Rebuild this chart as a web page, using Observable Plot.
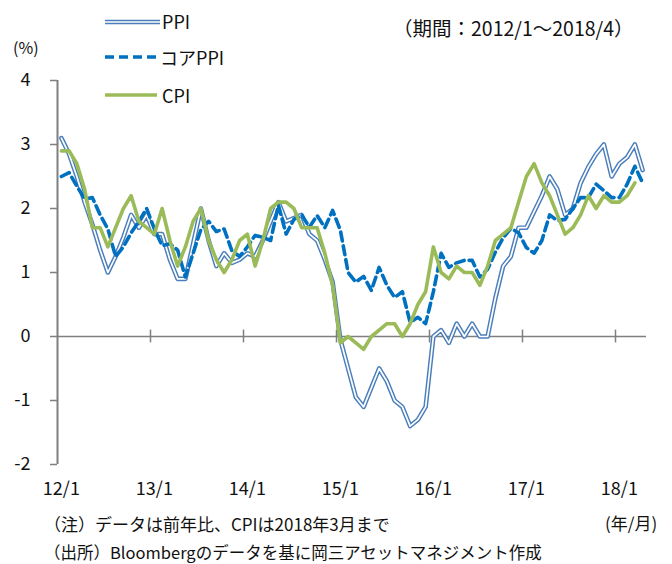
<!DOCTYPE html>
<html><head><meta charset="utf-8">
<script src="https://cdn.jsdelivr.net/npm/d3@7"></script>
<script src="https://cdn.jsdelivr.net/npm/@observablehq/plot@0.6"></script>
<style>
body{margin:0;background:#fff;font-family:"Noto Sans CJK JP","Noto Sans",sans-serif;}
#wrap{position:relative;width:672px;height:564px;overflow:hidden;}
#wrap svg.plot{position:absolute;left:0;top:0;}
.t{position:absolute;white-space:nowrap;color:#111;font-size:16px;line-height:1;transform:translateY(-50%);}
.sw{position:absolute;}
</style></head><body>
<div id="wrap"></div>
<script>
// months from 2012/1 to 2018/4
const startYear = 2012, startMonth = 1, monthCount = 76;
const yearLabels = ["12/1","13/1","14/1","15/1","16/1","17/1","18/1"];
const yTicks = [-2,-1,0,1,2,3,4];

const ppi = [3.1,2.85,2.5,2.1,1.75,1.35,1.0,1.25,1.55,1.9,1.7,1.9,
             1.6,1.6,1.2,0.9,0.9,1.45,2.0,1.5,1.1,1.3,1.15,1.2,
             1.3,1.25,1.5,1.8,2.1,1.8,1.85,1.9,1.6,1.5,1.2,0.85,
             -0.05,-0.5,-0.95,-1.1,-0.8,-0.5,-0.7,-1.0,-1.1,-1.4,-1.3,-1.1,
             0.0,0.1,-0.1,0.2,0.0,0.2,0.0,0.0,0.6,1.1,1.25,1.7,
             1.7,1.95,2.2,2.5,2.3,1.9,2.0,2.4,2.65,2.85,3.0,2.5,
             2.7,2.8,3.0,2.6];
const corePpi = [2.5,2.56,2.35,2.15,2.17,1.9,1.68,1.25,1.4,1.62,1.8,2.0,
                 1.68,1.42,1.45,1.35,0.93,1.3,1.67,1.8,1.64,1.68,1.34,1.25,
                 1.4,1.58,1.55,1.5,2.05,1.6,1.83,1.9,1.71,1.89,1.7,1.97,
                 1.66,1.0,0.85,0.94,0.72,1.08,0.8,0.61,0.7,0.22,0.3,0.2,
                 0.7,1.3,1.08,1.15,1.19,1.19,0.93,1.05,1.32,1.54,1.69,1.62,
                 1.39,1.3,1.5,1.9,1.81,1.83,2.0,2.17,2.17,2.38,2.28,2.17,
                 2.17,2.38,2.66,2.4];
const cpi = [2.9,2.9,2.7,2.3,1.7,1.7,1.4,1.7,2.0,2.2,1.8,1.7,
             1.6,2.0,1.5,1.1,1.4,1.8,2.0,1.5,1.2,1.0,1.2,1.5,
             1.6,1.1,1.5,2.0,2.1,2.1,2.0,1.7,1.7,1.7,1.3,0.8,
             -0.1,0.0,-0.1,-0.2,0.0,0.1,0.2,0.2,0.0,0.2,0.5,0.7,
             1.4,1.0,0.9,1.1,1.0,1.0,0.8,1.1,1.5,1.6,1.7,2.1,
             2.5,2.7,2.4,2.2,1.9,1.6,1.7,1.9,2.2,2.0,2.2,2.1,
             2.1,2.2,2.4];

const toRows = arr => arr.map((v, i) => ({i, v}));
const ppiRows = toRows(ppi), coreRows = toRows(corePpi), cpiRows = toRows(cpi);
const labelIdx = yearLabels.map((_, k) => k * 12);
const boundaries = labelIdx.slice(1).map(i => i - 0.5);
const axisGray = "#7f7f7f";

const chart = Plot.plot({
  width: 672, height: 564,
  marginTop: 80, marginBottom: 100, marginLeft: 57, marginRight: 26,
  x: {domain: [-0.5, monthCount - 0.5], axis: null},
  y: {domain: [d3.min(yTicks), d3.max(yTicks)], axis: null},
  style: {fontFamily: '"Noto Sans CJK JP","Noto Sans",sans-serif', fontSize: "18px", color: "#111", background: "white"},
  marks: [
    Plot.ruleY([0], {stroke: axisGray, strokeWidth: 1.5}),
    Plot.ruleX(boundaries, {x: d => d, y1: -0.1, y2: 0.1, stroke: axisGray, strokeWidth: 1.5}),
    Plot.ruleX([-0.5], {y1: d3.min(yTicks), y2: d3.max(yTicks), stroke: axisGray, strokeWidth: 2}),
    Plot.axisY(yTicks, {label: null, tickSize: 7, tickPadding: 20, stroke: axisGray, strokeWidth: 1.5, tickFormat: d => String(d), fill: "#111"}),
    Plot.axisX(labelIdx, {label: null, tickSize: 0, tickPadding: 18, tickFormat: d => yearLabels[labelIdx.indexOf(d)], fill: "#111"}),
    Plot.line(ppiRows, {x: "i", y: "v", stroke: "#4a7ebb", strokeWidth: 4.6, strokeLinejoin: "round"}),
    Plot.line(ppiRows, {x: "i", y: "v", stroke: "white", strokeWidth: 1.7, strokeLinejoin: "round"}),
    Plot.line(coreRows, {x: "i", y: "v", stroke: "#0070c0", strokeWidth: 3.6, strokeDasharray: "9,5", strokeLinejoin: "round"}),
    Plot.line(cpiRows, {x: "i", y: "v", stroke: "#9bbb59", strokeWidth: 3.6, strokeLinejoin: "round"})
  ]
});
const wrap = document.getElementById("wrap");
wrap.appendChild(chart);

function addText(txt, left, cy, size) {
  const d = document.createElement("div");
  d.className = "t"; d.textContent = txt;
  d.style.left = left + "px"; d.style.top = cy + "px";
  if (size) d.style.fontSize = size + "px";
  wrap.appendChild(d);
}
function addSwatch(cy, inner) {
  const ns = "http://www.w3.org/2000/svg";
  const s = document.createElementNS(ns, "svg");
  s.setAttribute("class", "sw");
  s.setAttribute("width", 60); s.setAttribute("height", 10);
  s.style.left = "103px"; s.style.top = (cy - 5) + "px";
  s.innerHTML = inner;
  wrap.appendChild(s);
}
addSwatch(22, '<line x1="2" x2="57" y1="5" y2="5" stroke="#4a7ebb" stroke-width="4.6"/><line x1="2" x2="57" y1="5" y2="5" stroke="white" stroke-width="1.7"/>');
addSwatch(57, '<line x1="2" x2="54" y1="5" y2="5" stroke="#0070c0" stroke-width="3.6" stroke-dasharray="9,5"/>');
addSwatch(95, '<line x1="2" x2="54" y1="5" y2="5" stroke="#9bbb59" stroke-width="3.6"/>');
addText("PPI", 162, 21, 18);
addText("コアPPI", 160, 57, 18);
addText("CPI", 162, 95, 18);
addText("（期間：2012/1～2018/4）", 393, 28, 19.5);
addText("(%)", 13, 47, 16);
addText("(年/月)", 605, 522, 17);
addText("（注）データは前年比、CPIは2018年3月まで", 44, 523, 17);
addText("（出所）Bloombergのデータを基に岡三アセットマネジメント作成", 44, 552, 16.5);
</script>
</body></html>
